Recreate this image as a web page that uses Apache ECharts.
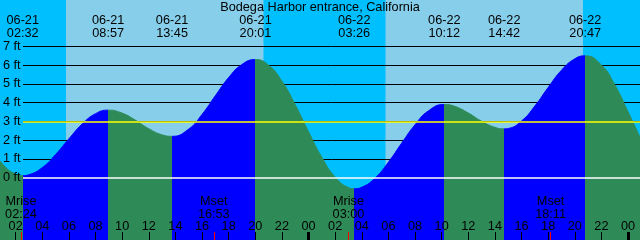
<!DOCTYPE html>
<html><head><meta charset="utf-8">
<script src="https://cdn.jsdelivr.net/npm/echarts@6/dist/echarts.min.js"></script>
<style>html,body{margin:0;padding:0;background:#00BFFF}#c{width:640px;height:240px}</style>
</head><body><div id="c"></div>
<script>
// ---------------- data ----------------
const chartTitle = 'Bodega Harbor entrance, California';
const dayLabels = ['06-21', '06-22'];
// tide height curve (hours since 06-21 00:00, feet)
const curveHours = [0,1,2,3,4,5,6,7,8,10,11,12,13,15,16,17,18,19,21,22,23,24,25,26,27,28,29,30,31,32,33,35,36,37,38,39,40,41,42,43,44,46,47,48,49];
const curveFeet  = [1.72,0.73,0.18,0.15,0.53,1.23,2.07,2.86,3.41,3.44,3.06,2.61,2.28,2.59,3.37,4.37,5.34,6.04,6.00,5.15,3.89,2.45,1.08,0.02,-0.54,-0.52,-0.03,0.82,1.84,2.82,3.56,3.80,3.45,3.01,2.68,2.62,3.02,3.82,4.81,5.73,6.34,6.01,4.96,3.52,2.0];
// high / low tides
const tideDates = ['06-21','06-21','06-21','06-21','06-22','06-22','06-22','06-22'];
const tideTimes = ['02:32','08:57','13:45','20:01','03:26','10:12','14:42','20:47'];
const tideKinds = ['low','high','low','high','low','high','low','high'];
const tideFeet  = [0.1, 3.6, 2.2, 6.3, -0.6, 3.9, 2.6, 6.5];
// moon
const moonNames = ['Mrise','Mset','Mrise','Mset'];
const moonDates = ['06-21','06-21','06-22','06-22'];
const moonTimes = ['02:24','16:53','03:00','18:11'];
// sun
const sunDates   = ['06-21','06-22'];
const sunriseTimes = ['05:47','05:47'];
const sunsetTimes  = ['20:37','20:37'];
// axes
const hourTicks = [2,4,6,8,10,12,14,16,18,20,22,24,26,28,30,32,34,36,38,40,42,44,46,48];
const midnightTicks = [24, 48];
const feetTicks = [0,1,2,3,4,5,6,7];
const gridFeet = [1,2,3,4,5,6,7];
const refFeet = [3, 0];
const refColors = ['#FFFF00', '#FFFFFF'];

// ---------------- helpers ----------------
const X_MIN = 0.9, X_MAX = 48.9, Y_MIN = -3.34, Y_MAX = 9.485;
const LINE_START = X_MIN + 1.65;
const RISING = '#0000FF', FALLING = '#2E8B57';
const NIGHT = '#00BFFF', DAY = '#87CEEB';
const FONT = 'Liberation Sans', FS = 12.7;
function toHours(date, hm) {
  const d = dayLabels.indexOf(date);
  const [h, m] = hm.split(':').map(Number);
  return d * 24 + h + m / 60;
}
const tideHours = tideDates.map((d, i) => toHours(d, tideTimes[i]));
const moonHours = moonDates.map((d, i) => toHours(d, moonTimes[i]));

const points = curveHours.map((h, i) => [h, curveFeet[i]])
  .concat(tideHours.map((h, i) => [h, tideFeet[i]]))
  .sort((a, b) => a[0] - b[0]);

const pieces = [];
tideHours.forEach((h, i) => {
  const color = tideKinds[i] === 'high' ? RISING : FALLING;
  if (i === 0) pieces.push({lt: h, color});
  else pieces.push({gte: tideHours[i - 1], lt: h, color});
});
pieces.push({gte: tideHours[tideHours.length - 1],
  color: tideKinds[tideKinds.length - 1] === 'high' ? FALLING : RISING});

function nearestIdx(arr, v) {
  let b = 0;
  arr.forEach((a, i) => { if (Math.abs(a - v) < Math.abs(arr[b] - v)) b = i; });
  return b;
}
const pad = n => (n < 10 ? '0' : '') + n;

const txt = {color: '#000', fontFamily: FONT, fontSize: FS, lineHeight: 13};
const noLine = {show: false, onZero: false};

const chart = echarts.init(document.getElementById('c'), null, {renderer: 'canvas'});
chart.setOption({
  animation: false,
  backgroundColor: NIGHT,
  title: {text: chartTitle, left: 'center', top: 1, padding: 0,
    textStyle: {color: '#000', fontFamily: FONT, fontSize: FS, fontWeight: 'normal', lineHeight: 13}},
  grid: {left: 0, right: 0, top: 0, bottom: 0, containLabel: false},
  xAxis: [
    {type: 'value', min: X_MIN, max: X_MAX, position: 'bottom', z: 10,
      axisLine: noLine, splitLine: {show: false},
      axisTick: {show: true, inside: true, length: 8, customValues: hourTicks, lineStyle: {color: '#000', width: 1}},
      axisLabel: {show: true, inside: true, margin: 7.5, customValues: hourTicks, ...txt,
        formatter: v => pad(Math.round(v) % 24)}},
    {type: 'value', min: X_MIN, max: X_MAX, position: 'bottom', z: 11,
      axisLine: noLine, splitLine: {show: false},
      axisTick: {show: true, inside: true, length: 8, customValues: moonHours, lineStyle: {color: '#FF0000', width: 1}},
      axisLabel: {show: true, inside: true, margin: 19, customValues: moonHours, ...txt,
        formatter: v => { const i = nearestIdx(moonHours, v); return moonNames[i] + '\n' + moonTimes[i]; }}},
    {type: 'value', min: X_MIN, max: X_MAX, position: 'bottom', z: 11,
      axisLine: noLine, splitLine: {show: false},
      axisTick: {show: true, inside: true, length: 8, customValues: midnightTicks, lineStyle: {color: '#000', width: 3}},
      axisLabel: {show: false}},
    {type: 'value', min: X_MIN, max: X_MAX, position: 'top', z: 10,
      axisLine: noLine, splitLine: {show: false}, axisTick: {show: false},
      axisLabel: {show: true, inside: true, margin: 14, customValues: tideHours, ...txt,
        formatter: v => { const i = nearestIdx(tideHours, v); return tideDates[i] + '\n' + tideTimes[i]; }}}
  ],
  yAxis: {type: 'value', min: Y_MIN, max: Y_MAX, z: 10,
    axisLine: noLine, axisTick: {show: false}, splitLine: {show: false},
    axisLabel: {show: true, inside: true, margin: 2, customValues: feetTicks, ...txt,
      formatter: v => Math.round(v) + ' ft'}},
  visualMap: {type: 'piecewise', show: false, dimension: 0, seriesIndex: 1, pieces},
  series: [
    {type: 'line', xAxisIndex: 0, data: [[X_MIN, 0]], symbol: 'none', silent: true, z: 1,
      lineStyle: {width: 0, opacity: 0},
      markArea: {silent: true, z: 0, itemStyle: {color: DAY, opacity: 1},
        data: sunDates.map((d, i) => [{xAxis: toHours(d, sunriseTimes[i])}, {xAxis: toHours(d, sunsetTimes[i])}])},
      markLine: {silent: true, z: 1, symbol: ['none', 'none'], label: {show: false},
        lineStyle: {color: '#000', width: 1, type: 'solid'},
        data: gridFeet.map(f => [{coord: [LINE_START, f]}, {coord: [X_MAX, f]}])}},
    {type: 'line', xAxisIndex: 0, data: points, smooth: true, symbol: 'none', showSymbol: false, z: 2,
      lineStyle: {width: 1}, areaStyle: {opacity: 1, origin: 'start'}},
    {type: 'line', xAxisIndex: 0, data: [[X_MIN, 0]], symbol: 'none', silent: true, z: 3,
      lineStyle: {width: 0, opacity: 0},
      markLine: {silent: true, z: 6, symbol: ['none', 'none'], label: {show: false},
        lineStyle: {width: 1.5, type: 'solid', opacity: 1},
        data: refFeet.map((f, k) => [{coord: [LINE_START, f], lineStyle: {color: refColors[k]}},
                                     {coord: [X_MAX, f], lineStyle: {color: refColors[k]}}])}}
  ]
});
</script>
</body></html>
